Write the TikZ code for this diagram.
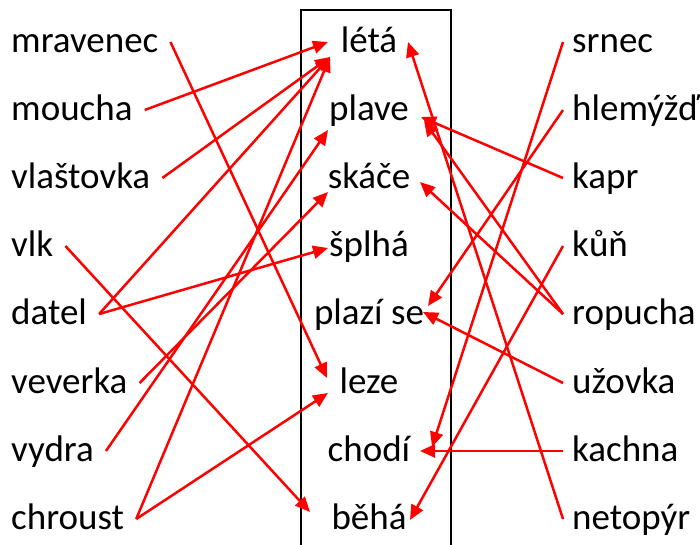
\documentclass[tikz,border=0pt]{standalone}
\usepackage{fontspec}
\setmainfont{Carlito}
\usetikzlibrary{arrows.meta}
\definecolor{linkRed}{HTML}{FF0000}
\tikzset{
  word/.style    = {inner ysep=0pt, text height=26pt, text depth=6pt,
                    font=\fontsize{37}{40}\selectfont},
  animal/.style  = {word, inner xsep=12pt, anchor=base west, xshift=-12pt},
  verb/.style    = {word, inner xsep=0pt, anchor=base},
  critter/.style = {word, inner xsep=9pt, anchor=base west, xshift=-9pt},
  frame/.style   = {draw=black, line width=1.6pt},
  link/.style    = {-{Triangle[length=15pt, width=13pt]}, line width=2.5pt,
                    draw=linkRed}
}
\begin{document}
\begin{tikzpicture}[x=1pt, y=-1pt]
\useasboundingbox (0,0) rectangle (700,544);
% frame round the verbs (runs off the bottom)
\draw[frame] (301,10) rectangle (451,560);
% left column
\foreach \n/\t/\y in {mravenec/mravenec/52, moucha/moucha/120,
    vlastovka/vlaštovka/188, vlk/vlk/256, datel/datel/324,
    veverka/veverka/393, vydra/vydra/461, chroust/chroust/529}{
  \node[animal] (\n) at (11,\y) {\t};
}
% verbs in the frame
\foreach \n/\t/\y in {leta/létá/52, plave/plave/120, skace/skáče/188,
    splha/šplhá/256, plazi/plazí se/324, leze/leze/393,
    chodi/chodí/461, beha/běhá/529}{
  \node[verb] (\n) at (369,\y) {\t};
}
% right column
\foreach \n/\t/\y in {srnec/srnec/52, hlemyzd/hlemýžď/120, kapr/kapr/188,
    kun/kůň/256, ropucha/ropucha/324, uzovka/užovka/393,
    kachna/kachna/461, netopyr/netopýr/529}{
  \node[critter] (\n) at (572,\y) {\t};
}
% links from the left
\foreach \a/\b/\d in {mravenec/leze/{-42,-5}, moucha/leta/{-41,0},
    vlastovka/leta/{-39,15}, vlk/beha/{-59,-7}, datel/leta/{-39,15},
    datel/splha/{-41,2}, veverka/skace/{-41,14}, vydra/plave/{-41,20},
    chroust/leta/{-39,15}, chroust/leze/{-41,10}}{
  \draw[link] (\a.east) -- ([shift={(\d)}]\b.center);
}
% links from the right
\foreach \a/\b/\d in {srnec/chodi/{63,-4}, hlemyzd/plazi/{59,-8},
    kapr/plave/{52,7}, kun/beha/{41,1}, ropucha/plave/{55,11},
    ropucha/skace/{51,4}, uzovka/plazi/{54,-2}, kachna/chodi/{51,0},
    netopyr/leta/{39,0}}{
  \draw[link] (\a.west) -- ([shift={(\d)}]\b.center);
}
\end{tikzpicture}
\end{document}
